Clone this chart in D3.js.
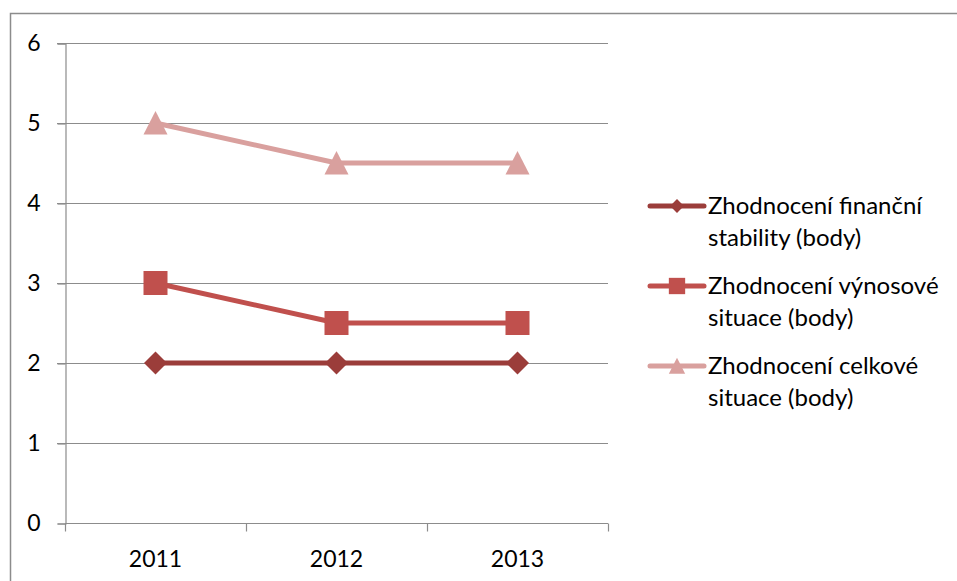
<!DOCTYPE html>
<html>
<head>
<meta charset="utf-8">
<script src="https://cdn.jsdelivr.net/npm/d3@7"></script>
<style>
  html, body { margin: 0; padding: 0; background: #fff; }
  svg { display: block; }
  text { font-family: Lato, "Open Sans", sans-serif; fill: #000; }
</style>
</head>
<body>
<svg id="chart" width="957" height="581"></svg>
<script>
// Years on the category axis
const years = ["2011", "2012", "2013"];
// Scores per series (body)
const financniStabilita = [2, 2, 2];
const vynosovaSituace = [3, 2.5, 2.5];
const celkovaSituace = [5, 4.5, 4.5];
// Series names shown in the legend (two lines each)
const seriesNames = [
  ["Zhodnocení finanční", "stability (body)"],
  ["Zhodnocení výnosové", "situace (body)"],
  ["Zhodnocení celkové", "situace (body)"]
];
const yTicks = [0, 1, 2, 3, 4, 5, 6];

const series = [
  { name: seriesNames[0], values: financniStabilita, color: "#9B3D3A", symbol: "diamond" },
  { name: seriesNames[1], values: vynosovaSituace, color: "#C0504D", symbol: "square" },
  { name: seriesNames[2], values: celkovaSituace, color: "#D9A09E", symbol: "triangle" }
];

const svg = d3.select("#chart");

// Outer chart frame
svg.append("rect")
  .attr("x", 10.5).attr("y", 13.5)
  .attr("width", 960).attr("height", 600)
  .attr("fill", "none").attr("stroke", "#8c8c8c").attr("stroke-width", 1.5);

const plot = { left: 65, right: 608, top: 43, bottom: 523 };

const x = d3.scaleBand().domain(years).range([plot.left, plot.right]);
const y = d3.scaleLinear().domain([0, 6]).range([plot.bottom, plot.top]);

// Horizontal gridlines
svg.append("g").selectAll("line").data(yTicks.filter(d => d > 0)).join("line")
  .attr("x1", plot.left - 8).attr("x2", plot.right)
  .attr("y1", d => y(d) + 0.5).attr("y2", d => y(d) + 0.5)
  .attr("stroke", "#8c8c8c").attr("stroke-width", 1.2);

// Y axis
const yAxis = svg.append("g")
  .attr("transform", `translate(${plot.left + 0.5},0.5)`)
  .call(d3.axisLeft(y).tickValues(yTicks).tickSize(8).tickPadding(17).tickFormat(d3.format("d")));
yAxis.select(".domain").attr("stroke", "#8c8c8c").attr("stroke-width", 1.2);
yAxis.selectAll(".tick line").attr("stroke", "#8c8c8c").attr("stroke-width", 1.2);
yAxis.selectAll(".tick text").attr("font-size", 23).attr("font-family", "Lato, sans-serif").attr("fill", "#000");

// X axis with tick marks at category boundaries
const xAxisG = svg.append("g").attr("transform", `translate(0,${plot.bottom + 0.5})`);
xAxisG.append("line")
  .attr("x1", plot.left).attr("x2", plot.right)
  .attr("stroke", "#8c8c8c").attr("stroke-width", 1.2);
const bounds = years.map(d => x(d)).concat([x(years[years.length - 1]) + x.bandwidth()]);
xAxisG.selectAll("line.tk").data(bounds).join("line").attr("class", "tk")
  .attr("x1", d => d + 0.5).attr("x2", d => d + 0.5)
  .attr("y1", 0).attr("y2", 8)
  .attr("stroke", "#8c8c8c").attr("stroke-width", 1.2);
xAxisG.selectAll("text").data(years).join("text")
  .attr("x", d => x(d) + x.bandwidth() / 2)
  .attr("y", 43)
  .attr("text-anchor", "middle")
  .attr("font-size", 23)
  .text(d => d);

// Marker shapes
function marker(sel, symbol, color, cx, cy, scale) {
  const s = scale || 1;
  if (symbol === "diamond") {
    const r = 11.5 * s;
    sel.append("path")
      .attr("d", `M${cx},${cy - r}L${cx + r},${cy}L${cx},${cy + r}L${cx - r},${cy}Z`)
      .attr("fill", color);
  } else if (symbol === "square") {
    const h = 12 * s;
    sel.append("rect")
      .attr("x", cx - h).attr("y", cy - h)
      .attr("width", 2 * h).attr("height", 2 * h)
      .attr("fill", color);
  } else {
    const h = 12 * s;
    sel.append("path")
      .attr("d", `M${cx},${cy - h}L${cx + h},${cy + h * 0.95}L${cx - h},${cy + h * 0.95}Z`)
      .attr("fill", color);
  }
}

const line = d3.line()
  .x((d, i) => x(years[i]) + x.bandwidth() / 2)
  .y(d => y(d));

series.forEach(s => {
  const g = svg.append("g");
  g.append("path")
    .attr("d", line(s.values))
    .attr("fill", "none")
    .attr("stroke", s.color)
    .attr("stroke-width", 5)
    .attr("stroke-linejoin", "round");
  s.values.forEach((v, i) => {
    marker(g, s.symbol, s.color, x(years[i]) + x.bandwidth() / 2, y(v));
  });
});

// Legend
const legendTop = [206, 286, 366];
series.forEach((s, i) => {
  const g = svg.append("g");
  const cy = legendTop[i];
  g.append("line")
    .attr("x1", 650).attr("x2", 704)
    .attr("y1", cy).attr("y2", cy)
    .attr("stroke", s.color).attr("stroke-width", 5)
    .attr("stroke-linecap", "round");
  marker(g, s.symbol, s.color, 677, cy, s.symbol === "diamond" ? 0.6 : 0.68);
  g.selectAll("text").data(s.name).join("text")
    .attr("x", 708)
    .attr("y", (d, j) => cy + 8 + j * 32)
    .attr("font-size", 24)
    .text(d => d);
});
</script>
</body>
</html>
